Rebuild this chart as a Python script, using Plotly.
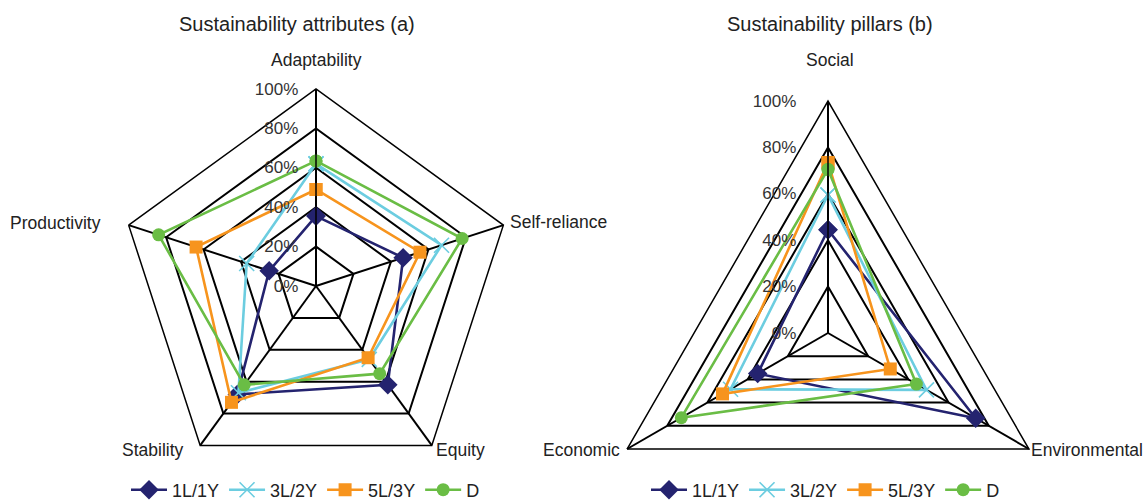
import plotly.graph_objects as go

# Sustainability attributes (a)
attributes = ["Adaptability", "Self-reliance", "Equity", "Stability", "Productivity"]
attr_1L1Y = [0.355, 0.465, 0.62, 0.68, 0.25]
attr_3L2Y = [0.62, 0.67, 0.46, 0.67, 0.37]
attr_5L3Y = [0.49, 0.555, 0.45, 0.73, 0.64]
attr_D = [0.635, 0.78, 0.55, 0.62, 0.84]

# Sustainability pillars (b)
pillars = ["Social", "Environmental", "Economic"]
pill_1L1Y = [0.445, 0.735, 0.35]
pill_3L2Y = [0.595, 0.49, 0.485]
pill_5L3Y = [0.735, 0.31, 0.525]
pill_D = [0.705, 0.44, 0.73]

series_names = ["1L/1Y", "3L/2Y", "5L/3Y", "D"]
tick_vals = [0, 0.2, 0.4, 0.6, 0.8, 1.0]
tick_text = ["0%", "20%", "40%", "60%", "80%", "100%"]

W, H = 1146, 600
FONT = "Liberation Sans, Arial, sans-serif"
TEXT = "#222222"

styles = {
    "1L/1Y": dict(color="#24236f", symbol="diamond", size=15),
    "3L/2Y": dict(color="#6ccde0", symbol="x-thin", size=15),
    "5L/3Y": dict(color="#f7941d", symbol="square", size=13),
    "D": dict(color="#6abd45", symbol="circle", size=13),
}


def px_x(v):
    return v / W


def px_y(v):
    return 1 - v / H


fig = go.Figure()


def add_series(cats, values, name, subplot, legend):
    st = styles[name]
    marker = dict(symbol=st["symbol"], size=st["size"], color=st["color"])
    if st["symbol"] == "x-thin":
        marker["line"] = dict(width=1.6, color=st["color"])
    fig.add_trace(go.Scatterpolar(
        r=values + values[:1],
        theta=cats + cats[:1],
        mode="lines+markers",
        name=name,
        line=dict(color=st["color"], width=2.6),
        marker=marker,
        subplot=subplot,
        legend=legend,
        cliponaxis=False,
    ))


for name, vals in zip(series_names, [attr_1L1Y, attr_3L2Y, attr_5L3Y, attr_D]):
    add_series(attributes, vals, name, "polar", "legend")
for name, vals in zip(series_names, [pill_1L1Y, pill_3L2Y, pill_5L3Y, pill_D]):
    add_series(pillars, vals, name, "polar2", "legend2")


def polar_layout(cx, cy, r, tick_pad):
    return dict(
        domain=dict(x=[px_x(cx - r), px_x(cx + r)], y=[px_y(cy + r), px_y(cy - r)]),
        gridshape="linear",
        bgcolor="white",
        radialaxis=dict(
            range=[0, 1], tickvals=tick_vals, ticktext=tick_text,
            angle=90, side="counterclockwise",
            ticks="outside", ticklen=tick_pad, tickcolor="rgba(0,0,0,0)",
            showline=True, linecolor="black", linewidth=1.5,
            gridcolor="black", gridwidth=1.5,
            tickfont=dict(family=FONT, size=17, color="#333333"),
            tickangle=90,
        ),
        angularaxis=dict(
            rotation=90, direction="clockwise", ticks="",
            showticklabels=False,
            showline=True, linecolor="black", linewidth=1.5,
            gridcolor="black", gridwidth=1.5,
        ),
    )


legend_common = dict(
    orientation="h", xanchor="left", yanchor="middle",
    font=dict(family=FONT, size=18, color=TEXT),
    bgcolor="rgba(0,0,0,0)", itemwidth=36, tracegroupgap=0,
)

title_font = dict(family=FONT, size=20, color=TEXT)
label_font = dict(family=FONT, size=17.5, color=TEXT)

# Category names around each chart: (text, x px, y px, xanchor)
attr_labels = [
    ("Adaptability", 316, 60, "center"),
    ("Self-reliance", 508, 222, "left"),
    ("Equity", 434, 450, "left"),
    ("Stability", 186, 450, "right"),
    ("Productivity", 103, 223, "right"),
]
pill_labels = [
    ("Social", 830, 60, "center"),
    ("Environmental", 1029, 450, "left"),
    ("Economic", 622, 450, "right"),
]

annotations = [
    dict(text="Sustainability attributes (a)", x=px_x(297), y=px_y(24),
         xref="paper", yref="paper", xanchor="center", yanchor="middle",
         showarrow=False, font=title_font),
    dict(text="Sustainability pillars (b)", x=px_x(830), y=px_y(24),
         xref="paper", yref="paper", xanchor="center", yanchor="middle",
         showarrow=False, font=title_font),
]
for text, x, y, anchor in attr_labels + pill_labels:
    annotations.append(dict(text=text, x=px_x(x), y=px_y(y), xref="paper", yref="paper",
                            xanchor=anchor, yanchor="middle", showarrow=False,
                            font=label_font))

fig.update_layout(
    width=W, height=H,
    margin=dict(l=0, r=0, t=0, b=0),
    paper_bgcolor="white",
    font=dict(family=FONT, size=16, color=TEXT),
    polar=polar_layout(316, 286, 197, 11),
    polar2=polar_layout(828, 333, 232, 25),
    legend=dict(x=px_x(126), y=px_y(490), **legend_common),
    legend2=dict(x=px_x(646), y=px_y(490), **legend_common),
    annotations=annotations,
)

# Show only the top 502 px of the canvas; the triangle chart needs room below.
clip_js = (
    "var gd=document.getElementById('{plot_id}');"
    "gd.style.height='502px';gd.style.overflow='hidden';"
    "document.body.style.margin='0';document.body.style.overflow='hidden';"
    "document.documentElement.style.overflow='hidden';"
)

fig.write_html("out.html", post_script=clip_js)
